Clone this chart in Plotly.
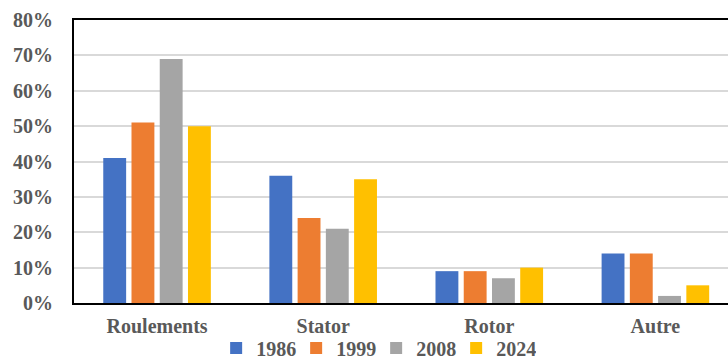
import plotly.graph_objects as go

# Share of failures by component, per survey year (percent)
categories = ["Roulements", "Stator", "Rotor", "Autre"]
years = ["1986", "1999", "2008", "2024"]
values_1986 = [41, 36, 9, 14]
values_1999 = [51, 24, 9, 14]
values_2008 = [69, 21, 7, 2]
values_2024 = [50, 35, 10, 5]
series = [values_1986, values_1999, values_2008, values_2024]
colors = ["#4472C4", "#ED7D31", "#A5A5A5", "#FFC000"]

serif = "Liberation Serif"
text_grey = "#595959"

fig = go.Figure()
for year, vals, col in zip(years, series, colors):
    fig.add_trace(go.Bar(
        name=year,
        x=categories,
        y=vals,
        marker=dict(color=col, line=dict(width=0)),
    ))

fig.update_layout(
    width=728,
    height=360,
    margin=dict(l=74, r=0, t=20, b=57, autoexpand=False),
    paper_bgcolor="white",
    plot_bgcolor="white",
    barmode="group",
    bargap=0.32,
    bargroupgap=0.19,
    font=dict(family=serif, color=text_grey),
    legend=dict(
        orientation="h",
        x=0.462,
        xanchor="center",
        y=-0.09,
        yanchor="top",
        font=dict(family=serif, size=20, color=text_grey, weight="bold"),
        itemwidth=30,
        entrywidth=35,
        bgcolor="rgba(0,0,0,0)",
    ),
    showlegend=True,
)

fig.update_xaxes(
    range=[-0.5, 3.437],
    showline=True,
    linecolor="black",
    linewidth=2,
    mirror=True,
    showgrid=False,
    ticks="",
    ticklabelstandoff=4,
    tickfont=dict(family=serif, size=20, color=text_grey, weight="bold"),
)

fig.update_yaxes(
    range=[0, 80],
    dtick=10,
    ticksuffix="%",
    showline=True,
    linecolor="black",
    linewidth=2,
    showgrid=True,
    gridcolor="#D9D9D9",
    gridwidth=1.5,
    zeroline=False,
    ticks="",
    ticklabelstandoff=15,
    tickfont=dict(family=serif, size=20, color=text_grey, weight="bold"),
)

fig.write_html("out.html")
